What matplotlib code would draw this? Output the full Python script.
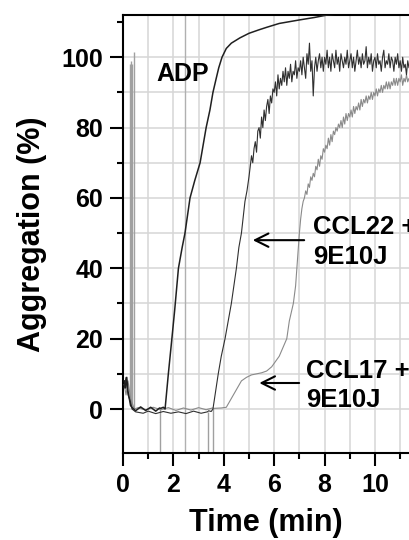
import numpy as np
import matplotlib
matplotlib.use("Agg")
import matplotlib.pyplot as plt

plt.rcParams['font.family'] = ['Liberation Sans', 'DejaVu Sans']
plt.rcParams['font.weight'] = 'bold'

# ADP trace (time in min, aggregation in %)
adp_t = [0.05, 0.1, 0.15, 0.2, 0.25, 0.3, 0.35, 0.5, 0.7, 0.9, 1.1, 1.3, 1.45,
         1.5, 1.6, 1.67, 1.8, 1.94, 2.05, 2.2, 2.35, 2.46, 2.56, 2.66, 2.85, 3.06, 3.18,
         3.3, 3.45, 3.57, 3.7, 3.8, 3.93, 4.1, 4.3, 4.64, 5.0, 5.4, 5.7, 6.2, 7.0, 7.6,
         8.1, 9.0, 10.0, 11.4]
adp_y = [8, 6, 9, 5, 3, 1, 0.5, -0.5, 0.6, -0.4, 0.5, -0.6, 0.3,
         0.2, 0.5, 0, 10, 20, 28, 40, 46, 50, 55, 60, 65, 70, 75,
         80, 85, 90, 94, 97, 100, 102.5, 104, 105.5, 106.8, 107.8, 108.5, 109.6, 110.6, 111.3,
         112, 112.6, 113, 113.4]

# CCL22 + 9E10J: baseline and rise
ccl22_t = [0.05, 0.12, 0.2, 0.3, 0.36, 0.5, 0.8, 1.0, 1.3, 1.6, 1.9, 2.2, 2.5, 2.8,
           3.1, 3.35, 3.4, 3.5, 3.57, 3.78, 3.9, 4.05, 4.2, 4.3, 4.4, 4.5, 4.6, 4.7,
           4.78, 4.84, 4.92]
ccl22_y = [6, 9, 4, 2, 0, -0.8, -1.2, -0.6, -1.3, -0.7, -1.2, -0.8, -1.3, -0.6,
           -1.2, -0.8, -0.5, -0.7, 0, 10, 15, 20, 26, 30, 35, 40, 46, 50,
           55, 59, 62]
# CCL22 + 9E10J: noisy part, sampled every 0.05 min from 5.0 min
ccl22_noise = [66, 69, 72, 70, 74, 76, 73, 79, 80, 77,
               83, 80, 85, 82, 86, 88, 84, 89, 87, 91,
               90, 93, 89, 95, 91, 94, 92, 96, 93, 97,
               92, 96, 94, 98, 93, 96, 95, 99, 94, 97,
               96, 99, 95, 100, 97, 94, 101, 98, 104, 96,
               99, 89, 97, 100, 96, 99, 101, 97, 100, 96,
               100, 98, 102, 97, 100, 96, 101, 99, 97, 102,
               98, 100, 96, 101, 99, 97, 100, 98, 102, 97,
               99, 101, 97, 100, 96, 99, 102, 98, 100, 97,
               101, 98, 99, 103, 97, 100, 98, 101, 96, 99,
               100, 97, 101, 98, 99, 96, 100, 102, 97, 99,
               98, 101, 97, 100, 99, 96, 100, 98, 101, 97,
               99, 96, 100, 97, 98, 95, 99, 97, 98]

# CCL17 + 9E10J: baseline, shoulder and rise
ccl17_t = [0.05, 0.12, 0.2, 0.3, 0.45, 0.6, 0.9, 1.2, 1.5, 1.8, 2.1, 2.4, 2.7, 3.0,
           3.3, 3.55, 3.62, 3.9, 4.1, 4.3, 4.5, 4.7, 4.9, 5.1, 5.3, 5.5, 5.7, 5.9,
           6.05, 6.2, 6.35, 6.5, 6.6, 6.76, 6.85, 6.9, 6.95]
ccl17_y = [7, 4, 8, 3, 0, 0.4, -0.3, 0.5, -0.2, 0.4, -0.4, 0.3, -0.3, 0.4,
           -0.2, 0.3, 0.2, 0.3, 0.5, 3, 5.5, 8, 9, 9.7, 10, 10.3, 10.8, 12,
           13.5, 15, 17.5, 20, 25, 30, 35, 40, 45]
# CCL17 + 9E10J: noisy part, sampled every 0.05 min from 7.0 min
ccl17_noise = [50, 54, 57, 59, 60, 62, 61, 64, 63, 66,
               65, 67, 66, 69, 68, 71, 69, 72, 71, 74,
               73, 75, 74, 77, 75, 78, 76, 79, 78, 80,
               79, 81, 80, 82, 80, 83, 81, 84, 82, 84,
               83, 85, 83, 86, 84, 86, 85, 87, 85, 88,
               86, 88, 87, 89, 87, 89, 88, 90, 88, 90,
               89, 91, 89, 91, 90, 92, 90, 92, 91, 93,
               91, 93, 91, 93, 92, 94, 92, 94, 92, 94,
               93, 95, 92, 94, 93, 95, 93, 94, 93]

# injection artefacts (time, low end, high end)
spike_t = [0.26, 0.3, 0.34, 0.42, 1.47, 3.37, 3.58]
spike_lo = [2, 1, 0, 0, -20, -20, -20]
spike_hi = [98, 99, 98, 101.5, 0.3, -0.8, 0.3]

marker_t = [2.45]

x_ticks = [0, 2, 4, 6, 8, 10]
y_ticks = [0, 20, 40, 60, 80, 100]

ccl22_t_all = ccl22_t + list(np.round(5.0 + 0.05 * np.arange(len(ccl22_noise)), 2))
ccl22_y_all = ccl22_y + ccl22_noise
ccl17_t_all = ccl17_t + list(np.round(7.0 + 0.05 * np.arange(len(ccl17_noise)), 2))
ccl17_y_all = ccl17_y + ccl17_noise

fig = plt.figure(figsize=(4.09, 5.40), dpi=100)
ax = fig.add_axes([0.3007, 0.1611, 0.6993, 0.8111])

# chart paper grid
for gx in range(1, 12):
    ax.axvline(gx, color='#d6d6d6', lw=1.1, zorder=0)
for gy in range(0, 101, 10):
    ax.axhline(gy, color='#d6d6d6', lw=1.1, zorder=0)
for t in marker_t:
    ax.axvline(t, color='#b0b0b0', lw=1.0, zorder=1)

ax.vlines(spike_t, spike_lo, spike_hi, color='#a0a0a0', lw=1.0, zorder=2)
ax.plot(ccl17_t_all, ccl17_y_all, color='#8a8a8a', lw=0.8, zorder=3)
ax.plot(ccl22_t_all, ccl22_y_all, color='#303030', lw=0.8, zorder=4)
ax.plot(adp_t, adp_y, color='#202020', lw=1.1, zorder=5)

ax.set_xlim(0, 11.35)
ax.set_ylim(-12.5, 112)
ax.set_xticks(x_ticks)
ax.set_yticks(y_ticks)
ax.set_xticks(np.arange(1, 12, 2), minor=True)
ax.set_yticks(np.arange(10, 111, 20), minor=True)

ax.tick_params(which='major', length=9.4, width=1.5, labelsize=18, pad=5)
ax.tick_params(which='minor', length=4.5, width=1.5)
for lab in ax.get_xticklabels() + ax.get_yticklabels():
    lab.set_fontweight('bold')

for s in ['left', 'bottom', 'top']:
    ax.spines[s].set_linewidth(1.5)
ax.spines['right'].set_visible(False)

ax.set_xlabel('Time (min)', fontsize=22, fontweight='bold', labelpad=8)
ax.set_ylabel('Aggregation (%)', fontsize=22, fontweight='bold', labelpad=10)

ax.text(1.31, 95.2, 'ADP', fontsize=18, fontweight='bold', va='center', ha='left', zorder=6)
ax.text(7.54, 47.4, 'CCL22 +\n9E10J', fontsize=18.5, fontweight='bold', va='center', ha='left',
        linespacing=1.3, clip_on=False)
ax.text(7.26, 6.7, 'CCL17 +\n9E10J', fontsize=18.5, fontweight='bold', va='center', ha='left',
        linespacing=1.3, clip_on=False)
ax.annotate('', xy=(5.04, 48), xytext=(7.3, 48),
            arrowprops=dict(arrowstyle='->', lw=1.5, color='black', mutation_scale=24))
ax.annotate('', xy=(5.3, 7.4), xytext=(7.1, 7.4),
            arrowprops=dict(arrowstyle='->', lw=1.5, color='black', mutation_scale=24))

fig.savefig('out.png', dpi=100)
